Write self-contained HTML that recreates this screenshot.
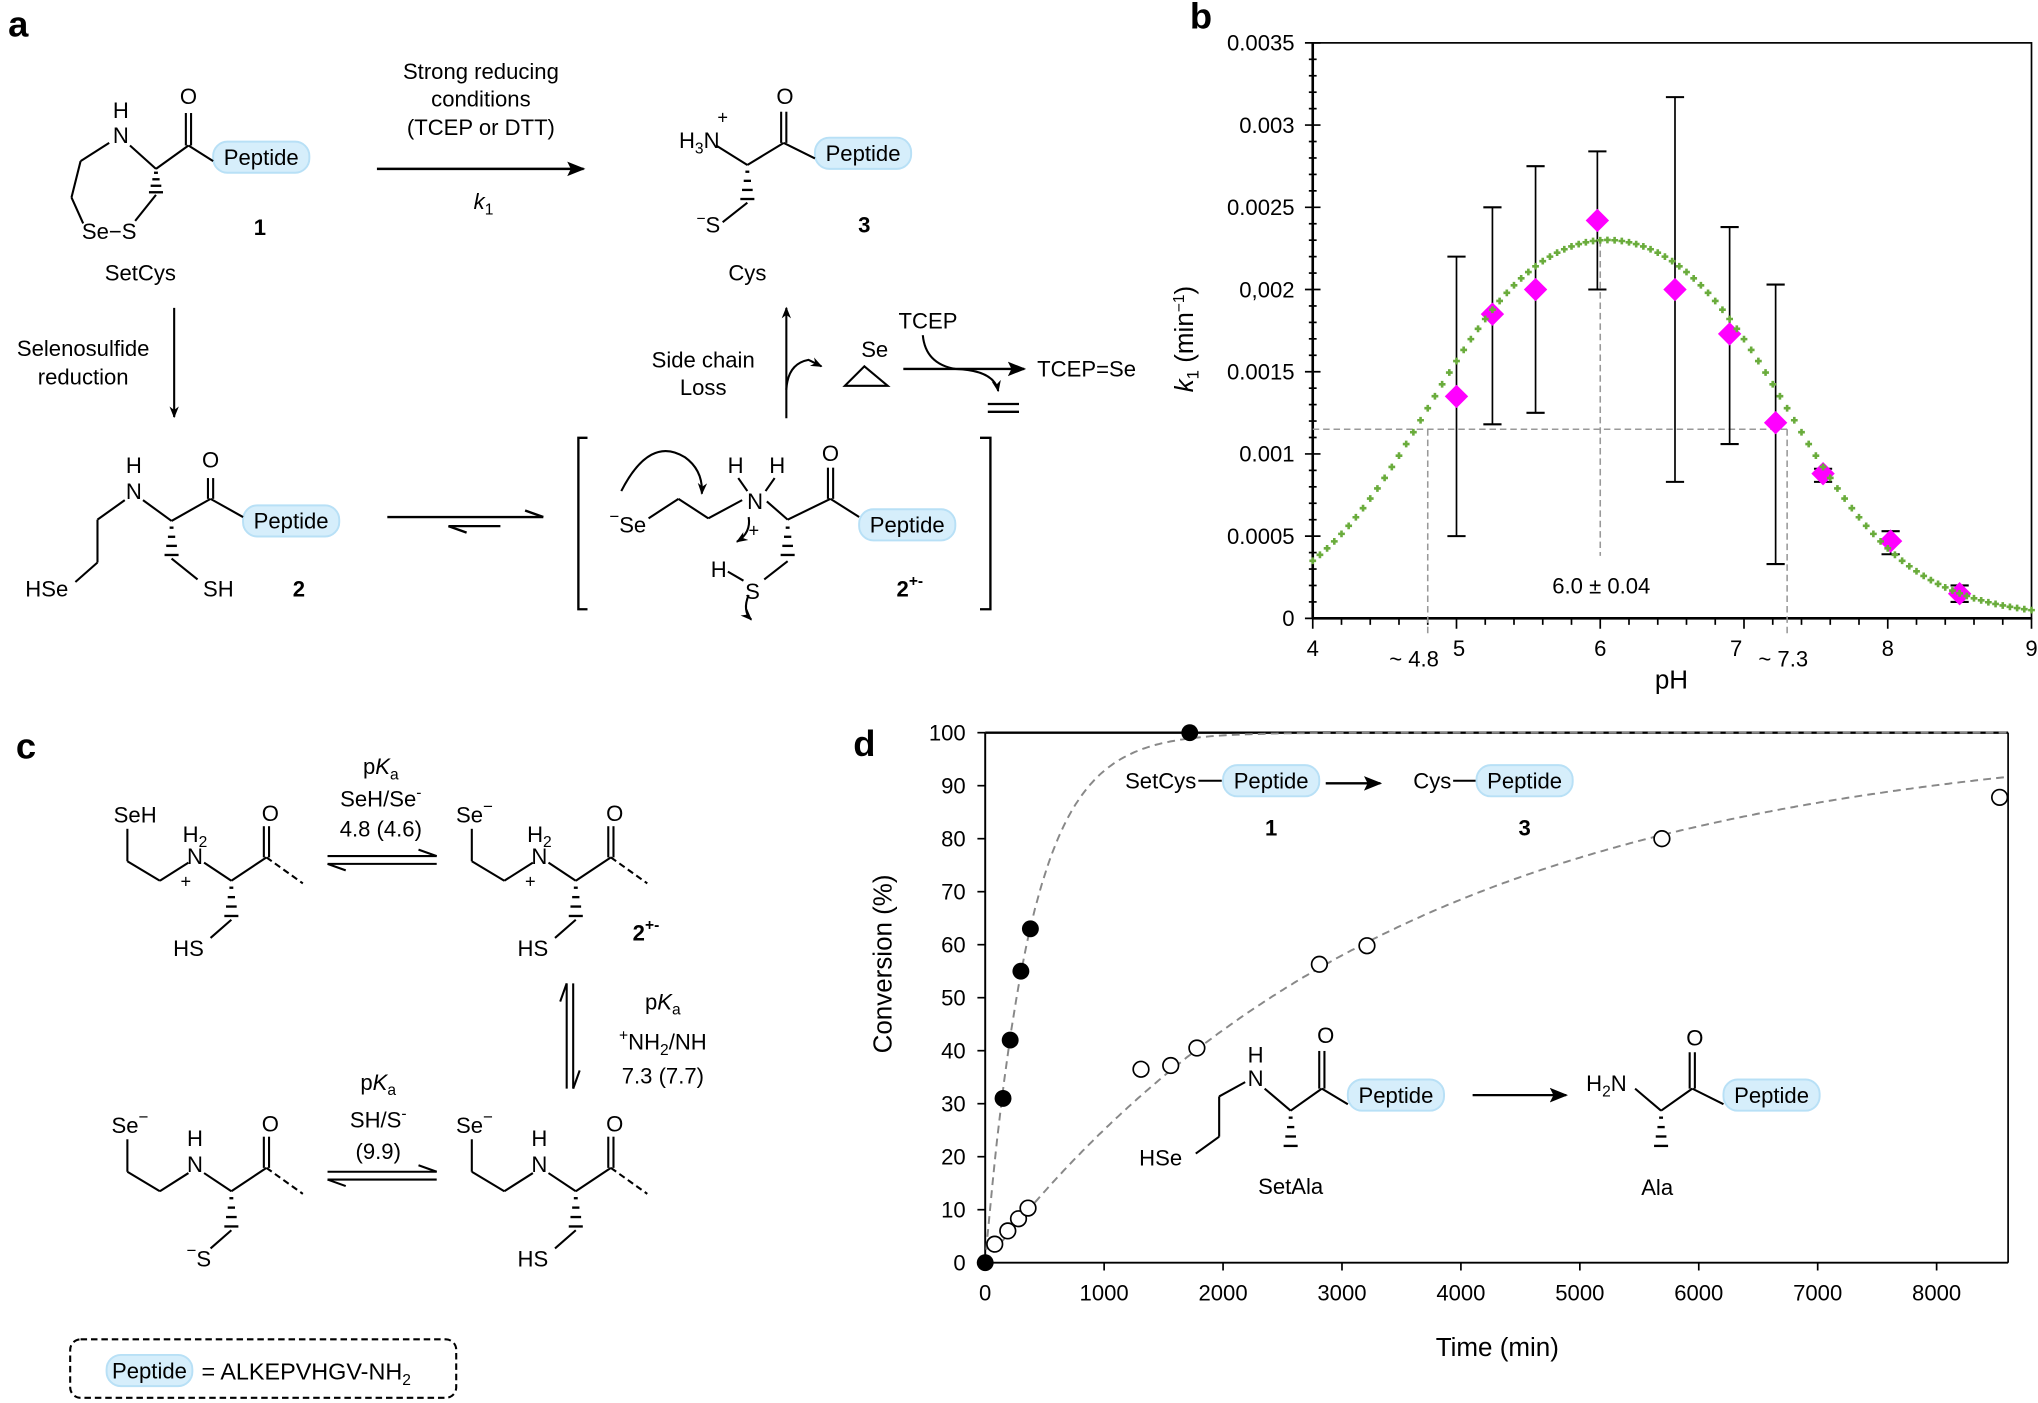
<!DOCTYPE html>
<html><head><meta charset="utf-8"><style>
html,body{margin:0;padding:0;background:#fff}
svg{display:block}
text{font-family:"Liberation Sans",Arial,sans-serif;fill:#000}
</style></head><body>
<svg id="s" width="2038" height="1403" viewBox="0 0 1568 1080" preserveAspectRatio="none" xmlns="http://www.w3.org/2000/svg">
<defs>
<marker id="ah" viewBox="0 0 10 10" refX="9" refY="5" markerWidth="9" markerHeight="9" markerUnits="userSpaceOnUse" orient="auto"><path d="M0,1 L10,5 L0,9 L3,5 z" fill="#000"/></marker>
<marker id="ah2" viewBox="0 0 10 10" refX="9" refY="5" markerWidth="14" markerHeight="14" markerUnits="userSpaceOnUse" orient="auto"><path d="M0,1 L10,5 L0,9 L2,5 z" fill="#000"/></marker>
</defs>
<g id="g" stroke="#000" stroke-width="1.6" fill="none"></g>
<g id="t"></g>
</svg>
<script>
const NS="http://www.w3.org/2000/svg";
const G=document.getElementById('g'),T=document.getElementById('t');
function el(tag,attrs,parent){const e=document.createElementNS(NS,tag);for(const k in attrs)e.setAttribute(k,attrs[k]);(parent||G).appendChild(e);return e;}
function L(x1,y1,x2,y2,extra){return el('line',Object.assign({x1,y1,x2,y2},extra||{}));}
function P(d,extra){return el('path',Object.assign({d},extra||{}));}
function tx(x,y,s,size,extra){const e=el('text',Object.assign({x,y,'font-size':size||17,'text-anchor':'middle'},extra||{}),T);e.innerHTML=s;return e;}
function pill(cx,cy,w){w=w||74;el('rect',{x:cx-w/2,y:cy-12,width:w,height:24,rx:11,fill:'#d6eefb',stroke:'#b8e0f6','stroke-width':1.5});tx(cx,cy+6,'Peptide',17);}
function hash(x,y1,y2){const n=4;for(let i=0;i<n;i++){const y=y1+(y2-y1)*(i+0.6)/n;const w=1.5+i*1.3;L(x-w,y,x+w,y,{'stroke-width':1.8});}}
function dbl(x,y1,y2){L(x-2,y1,x-2,y2);L(x+2,y1,x+2,y2);}

// labels
tx(14,28,'a',28,{'font-weight':'bold'});
tx(924,22,'b',28,{'font-weight':'bold'});
tx(20,584,'c',28,{'font-weight':'bold'});
tx(665,582,'d',28,{'font-weight':'bold'});

// ===== Panel a =====
tx(93,91,'H',17);tx(93,110,'N',17);tx(145,80,'O',17);
pill(201,121);
L(100,112,120,130);L(120,130,145,112);dbl(145,87,112);L(145,112,164,124);
L(84,110,62,124);L(62,124,55,152);L(55,152,64,172);
tx(84,184,'Se−S',17);
L(104,170,120,150);hash(120,130,150);
tx(200,181,'1',17,{'font-weight':'bold'});tx(108,216,'SetCys',17);
L(290,130,449,130,{'marker-end':'url(#ah2)','stroke-width':2});
tx(370,61,'Strong reducing',17);tx(370,82,'conditions',17);tx(370,104,'(TCEP or DTT)',17);
tx(372,161,'<tspan font-style="italic">k</tspan><tspan font-size="12" dy="4">1</tspan>',17);
tx(538,114,'H<tspan font-size="12" dy="4">3</tspan><tspan dy="-4">N</tspan>',17);tx(556,95,'+',14);
tx(604,80,'O',17);pill(664,118);
L(551,112,575,127);L(575,127,603,110);dbl(603,86,110);L(603,110,627,122);
hash(575,128,156);L(575,156,556,171);
tx(545,179,'<tspan font-size="12" dy="-7">−</tspan><tspan dy="7">S</tspan>',17);
tx(665,179,'3',17,{'font-weight':'bold'});tx(575,216,'Cys',17);
L(134,237,134,321,{'marker-end':'url(#ah)'});
tx(64,274,'Selenosulfide',17);tx(64,296,'reduction',17);
// struct 2
tx(103,364,'H',17);tx(103,384,'N',17);tx(162,360,'O',17);pill(224,401);
L(110,385,132,401);L(132,401,162,384);dbl(162,368,384);L(162,384,187,398);
hash(132,402,430);L(132,430,152,446);tx(168,459,'SH',17);
L(96,385,75,400);L(75,400,75,433);L(75,433,58,448);tx(36,459,'HSe',17);
tx(230,459,'2',17,{'font-weight':'bold'});
L(298,398,418,398,{'stroke-width':1.8});P('M404,393 L418,398',{'stroke-width':1.8});
L(345,405,385,405,{'stroke-width':1.8});P('M359,410 L345,405',{'stroke-width':1.8});
P('M452,337 L445,337 L445,469 L452,469',{'stroke-width':1.8});
P('M754,337 L762,337 L762,469 L754,469',{'stroke-width':1.8});
// struct 2+-
tx(486,410,'<tspan font-size="13" dx="-3" dy="-8">−</tspan><tspan dy="8">Se</tspan>',17);
L(499,399,522,384);L(522,384,545,399);L(545,399,571,385);
tx(566,364,'H',17);tx(598,364,'H',17);L(568,368,575,378);L(596,368,589,378);
tx(581,392,'N',17);tx(580,413,'+',14);
L(590,386,606,400);L(606,400,639,384);dbl(639,360,384);tx(639,355,'O',17);
L(639,384,661,398);pill(698,404);
hash(606,402,430);L(606,432,588,446);tx(579,461,'S',17);tx(553,444,'H',17);L(560,440,572,447);
P('M478,378 Q500,335 527,352 Q541,362 540,380',{'marker-end':'url(#ah)'});
P('M576,398 Q578,410 567,417',{'marker-end':'url(#ah)'});
P('M576,458 Q571,470 578,477',{'marker-end':'url(#ah)'});
tx(700,459,'2<tspan font-size="12" dy="-8">+-</tspan>',17,{'font-weight':'bold'});
L(605,322,605,237,{'marker-end':'url(#ah)'});
tx(541,283,'Side chain',17);tx(541,304,'Loss',17);
P('M605,300 Q606,280 622,277 L632,282',{'marker-end':'url(#ah)'});
tx(673,275,'Se',17);P('M665,282 L650,297 L683,297 Z');
L(695,284,788,284,{'marker-end':'url(#ah2)','stroke-width':1.8});
tx(836,290,'TCEP=Se',17);tx(714,253,'TCEP',17);
P('M710,258 Q712,280 735,284 Q765,285 768,301',{'marker-end':'url(#ah)'});
L(760,311,784,311,{'stroke-width':1.8});L(760,317,784,317,{'stroke-width':1.8});

// ===== Panel c =====
function cStruct(dx,dy,type){
  const ox=dx, oy=dy;
  const top=type==='SeH'||type==='Se';
  if(type==='SeH') tx(104+ox,633+oy,'SeH',17);
  else tx(100+ox,633+oy,'Se<tspan font-size="13" dy="-8">−</tspan>',17);
  L(98+ox,638+oy,98+ox,663+oy);L(98+ox,663+oy,123+ox,678+oy);L(123+ox,678+oy,145+ox,664+oy);
  if(top){tx(150+ox,648+oy,'H<tspan font-size="12" dy="4">2</tspan>',17);tx(150+ox,665+oy,'N',17);tx(143+ox,683+oy,'+',14);}
  else{tx(150+ox,643+oy,'H',17);tx(150+ox,663+oy,'N',17);}
  L(157+ox,664+oy,178+ox,678+oy);L(178+ox,678+oy,205+ox,660+oy);dbl(205+ox,636+oy,660+oy);
  tx(208+ox,632+oy,'O',17);
  L(205+ox,660+oy,233+ox,680+oy,{'stroke-dasharray':'5,3'});
  hash(178+ox,679+oy,708+oy);L(178+ox,708+oy,162+ox,722+oy);
  if(type==='SeS') tx(153+ox,736+oy,'<tspan font-size="13" dy="-8">−</tspan><tspan dy="8">S</tspan>',17);
  else tx(145+ox,736+oy,'HS',17);
}
cStruct(0,0,'SeH');cStruct(265,0,'Se');cStruct(0,239,'SeS');cStruct(265,239,'SeN');
tx(497,724,'2<tspan font-size="12" dy="-8">+-</tspan>',17,{'font-weight':'bold'});
L(252,659,336,659);P('M322,654 L336,659');L(252,665,336,665);P('M266,670 L252,665');
tx(293,596,'p<tspan font-style="italic">K</tspan><tspan font-size="12" dy="4">a</tspan>',17);
tx(293,621,'SeH/Se<tspan font-size="12" dy="-7">-</tspan>',17);tx(293,644,'4.8 (4.6)',17);
L(252,902,336,902);P('M322,897 L336,902');L(252,908,336,908);P('M266,913 L252,908');
tx(291,839,'p<tspan font-style="italic">K</tspan><tspan font-size="12" dy="4">a</tspan>',17);
tx(291,868,'SH/S<tspan font-size="12" dy="-7">-</tspan>',17);tx(291,892,'(9.9)',17);
L(436,757,436,838);P('M431,771 L436,757');L(441,757,441,838);P('M446,824 L441,838');
tx(510,777,'p<tspan font-style="italic">K</tspan><tspan font-size="12" dy="4">a</tspan>',17);
tx(510,808,'<tspan font-size="12" dy="-7">+</tspan><tspan dy="7">NH</tspan><tspan font-size="12" dy="4">2</tspan><tspan dy="-4">/NH</tspan>',17);
tx(510,834,'7.3 (7.7)',17);
el('rect',{x:54,y:1031,width:297,height:45,rx:8,'stroke-dasharray':'5,3'});
pill(115,1055,66);tx(155,1062,'= ALKEPVHGV-NH<tspan font-size="12" dy="4">2</tspan>',18,{'text-anchor':'start'});

// ===== Panel b =====
const bx=p=>1010+(p-4)*110.6, by=k=>476-k/0.0035*443;
el('rect',{x:1010,y:33,width:553,height:443,'stroke-width':1.3});
L(1010,476,1563,476,{'stroke-width':2});L(1010,33,1010,476,{'stroke-width':2});
for(let i=0;i<=35;i++){const y=by(i*0.0001);const maj=i%5===0;L(maj?1004:1007,y,maj?1016:1013,y,{'stroke-width':1.3});}
for(let i=0;i<=25;i++){const x=bx(4+i*0.2);const maj=i%5===0;L(x,476,x,maj?484:481,{'stroke-width':1.3});}
['0','0.0005','0.001','0.0015','0,002','0.0025','0.003','0.0035'].forEach((s,i)=>tx(996,by(i*0.0005)+6,s,17,{'text-anchor':'end'}));
for(let p=4;p<=9;p++){if(p===7)tx(bx(p)-6,505,'7',17);else tx(bx(p)+(p===5?2:0),505,String(p),17);}
tx(1088,513,'~ 4.8',17);tx(1372,513,'~ 7.3',17);tx(1286,530,'pH',20);
tx(912,255,'<tspan font-style="italic">k</tspan><tspan font-size="13" dy="4">1</tspan><tspan dy="-4"> (min</tspan><tspan font-size="12" dy="-7">−1</tspan><tspan dy="7">)</tspan>',20,{transform:'rotate(-90 918 255)'});
tx(1232,457,'6.0 ± 0.04',17);
const dash={stroke:'#999','stroke-width':1.2,'stroke-dasharray':'5,3'};
L(1010,by(0.00115),bx(7.3),by(0.00115),dash);
L(bx(4.8),by(0.00115),bx(4.8),490,dash);L(bx(7.3),by(0.00115),bx(7.3),490,dash);
L(bx(6.0),by(0.0023),bx(6.0),by(0.00038),dash);
const f=p=>0.00256/(1+Math.pow(10,4.8-p)+Math.pow(10,p-7.3));
const data=[[5,0.00135,0.0005,0.0022],[5.25,0.00185,0.00118,0.0025],[5.55,0.002,0.00125,0.00275],[5.98,0.00242,0.002,0.00284],[6.52,0.002,0.00083,0.00317],[6.9,0.00173,0.00106,0.00238],[7.22,0.00119,0.00033,0.00203],[7.55,0.00088,0.00083,0.00091],[8.02,0.00047,0.00039,0.00053],[8.5,0.00015,0.0001,0.0002]];
data.forEach(d=>{const x=bx(d[0]);L(x,by(d[2]),x,by(d[3]),{'stroke-width':1.3});L(x-7,by(d[2]),x+7,by(d[2]),{'stroke-width':1.6});L(x-7,by(d[3]),x+7,by(d[3]),{'stroke-width':1.6});});
data.forEach(d=>{const x=bx(d[0]),y=by(d[1]);el('path',{d:`M${x},${y-9} L${x+9},${y} L${x},${y+9} L${x-9},${y} Z`,fill:'#ff00ff',stroke:'none'});});
for(let p=4;p<=9.001;p+=0.05){const x=bx(p),y=by(f(p));el('path',{d:`M${x-2.6},${y} L${x+2.6},${y} M${x},${y-2.6} L${x},${y+2.6}`,stroke:'#6aac3c','stroke-width':2});}

// ===== Panel d =====
const dx=t=>758+t*0.0915, dy=p=>972-p*4.08;
L(758,564,758,972,{'stroke-width':1.5});L(758,972,1545,972,{'stroke-width':1.5});
L(758,564,1545,564,{'stroke-width':1.8});L(1545,564,1545,972,{'stroke-width':1.3});
for(let i=0;i<=10;i++){const y=dy(i*10);L(752,y,758,y,{'stroke-width':1.3});tx(743,y+6,String(i*10),17,{'text-anchor':'end'});}
for(let i=0;i<=8;i++){const x=dx(i*1000);L(x,972,x,978,{'stroke-width':1.3});tx(x,1001,String(i*1000),17);}
tx(1152,1044,'Time (min)',20);
tx(686,742,'Conversion (%)',20,{transform:'rotate(-90 686 742)'});
let d1='',d2='';
for(let t=0;t<=8600;t+=20){const x=dx(t);if(x>1545)break;d1+=(t?'L':'M')+x.toFixed(1)+','+dy(100*(1-Math.exp(-t/380))).toFixed(1);d2+=(t?'L':'M')+x.toFixed(1)+','+dy(100*(1-Math.exp(-t/3460))).toFixed(1);}
P(d1,{stroke:'#888','stroke-width':1.5,'stroke-dasharray':'6,4'});P(d2,{stroke:'#888','stroke-width':1.5,'stroke-dasharray':'6,4'});
[[0,0],[150,31],[210,42],[300,55],[380,63],[1720,100]].forEach(p=>el('circle',{cx:dx(p[0]),cy:dy(p[1]),r:6.5,fill:'#000',stroke:'none'}));
[[80,3.5],[190,6],[280,8.3],[360,10.3],[1310,36.5],[1560,37.2],[1780,40.5],[2810,56.3],[3210,59.8],[5690,80],[8530,87.8]].forEach(p=>el('circle',{cx:dx(p[0]),cy:dy(p[1]),r:6,fill:'#fff',stroke:'#000','stroke-width':1.3}));
tx(893,607,'SetCys',17);L(922,601,940,601);pill(978,601);
L(1020,603,1062,603,{'marker-end':'url(#ah2)','stroke-width':1.8});
tx(1102,607,'Cys',17);L(1118,601,1136,601);pill(1173,601);
tx(978,643,'1',17,{'font-weight':'bold'});tx(1173,643,'3',17,{'font-weight':'bold'});
tx(966,818,'H',17);tx(966,836,'N',17);tx(1020,803,'O',17);pill(1074,843);
L(973,838,993,855);L(993,855,1017,838);dbl(1017,809,838);L(1017,838,1037,850);
hash(993,856,885);
L(958,833,938,844);L(938,844,938,875);L(938,875,920,888);tx(893,897,'HSe',17);
tx(993,919,'SetAla',17);
L(1133,843,1205,843,{'marker-end':'url(#ah2)','stroke-width':1.8});
tx(1236,840,'H<tspan font-size="12" dy="4">2</tspan><tspan dy="-4">N</tspan>',17);
L(1258,838,1278,855);L(1278,855,1302,838);dbl(1302,810,838);tx(1304,805,'O',17);L(1302,838,1326,850);pill(1363,843);
hash(1278,856,885);tx(1275,920,'Ala',17);
</script>
</body></html>
